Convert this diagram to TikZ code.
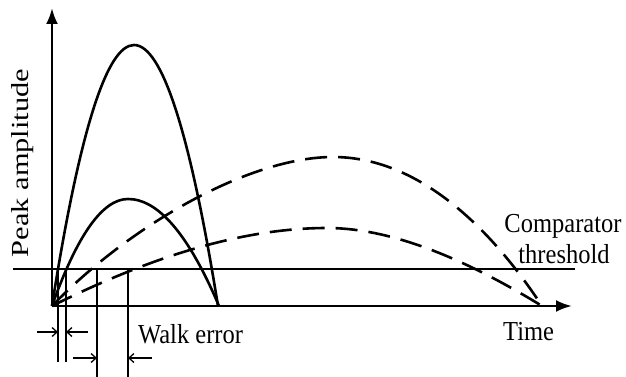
\documentclass[tikz,border=0pt]{standalone}
\usepackage{fontspec}
\setmainfont{Liberation Serif}
\usetikzlibrary{arrows.meta}
\tikzset{
  curve/.style={line width=2.6pt, line join=round},
  dcurve/.style={curve, dash pattern=on 22pt off 11pt},
  axis/.style={line width=2.6pt, -{Latex[length=16pt,width=12pt]}},
  marker/.style={line width=1.6pt},
  walkarrow/.style={line width=1.3pt, -{Straight Barb[length=5pt,width=9pt]}},
  lbl/.style={inner sep=0pt, font=\fontsize{24.5}{30}\selectfont}
}
\begin{document}
\begin{tikzpicture}[x=1pt,y=-1pt]
\useasboundingbox (0,0) rectangle (626,377);
\coordinate (O) at (52,306);
\coordinate (Ytop) at (52,8);
\coordinate (Xend) at (572,306);
\coordinate (Tl) at (13,269);
\coordinate (Tr) at (575,269);
% threshold
\draw[curve] (Tl) -- (Tr);
% axes
\draw[axis] (O) -- (Ytop);
\draw[axis] (O) -- (Xend);
% solid pulses
\draw[curve] (O) .. controls (79.3,132) and (106.7,45) .. (134,45)
  .. controls (162,45) and (190,132) .. (218,306);
\draw[curve] (O) .. controls (77.3,234.7) and (102.7,199) .. (128,199)
  .. controls (158.3,199) and (188.7,234.7) .. (219,306);
% dashed pulses
\draw[dcurve] (O) .. controls (130,225) and (250,157) .. (333,157)
  .. controls (420,157) and (492,230) .. (542,306);
\draw[dcurve] (O) .. controls (160,252) and (250,228) .. (327,228)
  .. controls (400,228) and (480,268) .. (542,306);
% walk error markers
\coordinate (m1t) at (58,269); \coordinate (m1b) at (58,362);
\coordinate (m2t) at (66,269); \coordinate (m2b) at (66,362);
\coordinate (m3t) at (97,269); \coordinate (m3b) at (97,377);
\coordinate (m4t) at (128,269); \coordinate (m4b) at (128,377);
\draw[marker] (m1t) -- (m1b);
\draw[marker] (m2t) -- (m2b);
\draw[marker] (m3t) -- (m3b);
\draw[marker] (m4t) -- (m4b);
\coordinate (a1s) at (37,332); \coordinate (a1e) at (58,332);
\coordinate (a2s) at (88,332); \coordinate (a2e) at (66,332);
\coordinate (a3s) at (73,358); \coordinate (a3e) at (97,358);
\coordinate (a4s) at (152,358); \coordinate (a4e) at (128,358);
\draw[walkarrow] (a1s) -- (a1e);
\draw[walkarrow] (a2s) -- (a2e);
\draw[walkarrow] (a3s) -- (a3e);
\draw[walkarrow] (a4s) -- (a4e);
% labels
\node[lbl, anchor=base west] (walk) at (138,343) {\scalebox{1}[1.12]{Walk error}};
\node[lbl, anchor=base west] (time) at (503,340) {\scalebox{1}[1.12]{Time}};
\node[lbl, anchor=base] (comp) at (563,232) {\scalebox{1}[1.12]{Comparator}};
\node[lbl, anchor=base] (thr) at (564,263) {\scalebox{1}[1.12]{threshold}};
\node[lbl, rotate=90] (ylab) at (23,163) {\scalebox{1.24}[1]{Peak amplitude}};
\end{tikzpicture}
\end{document}
